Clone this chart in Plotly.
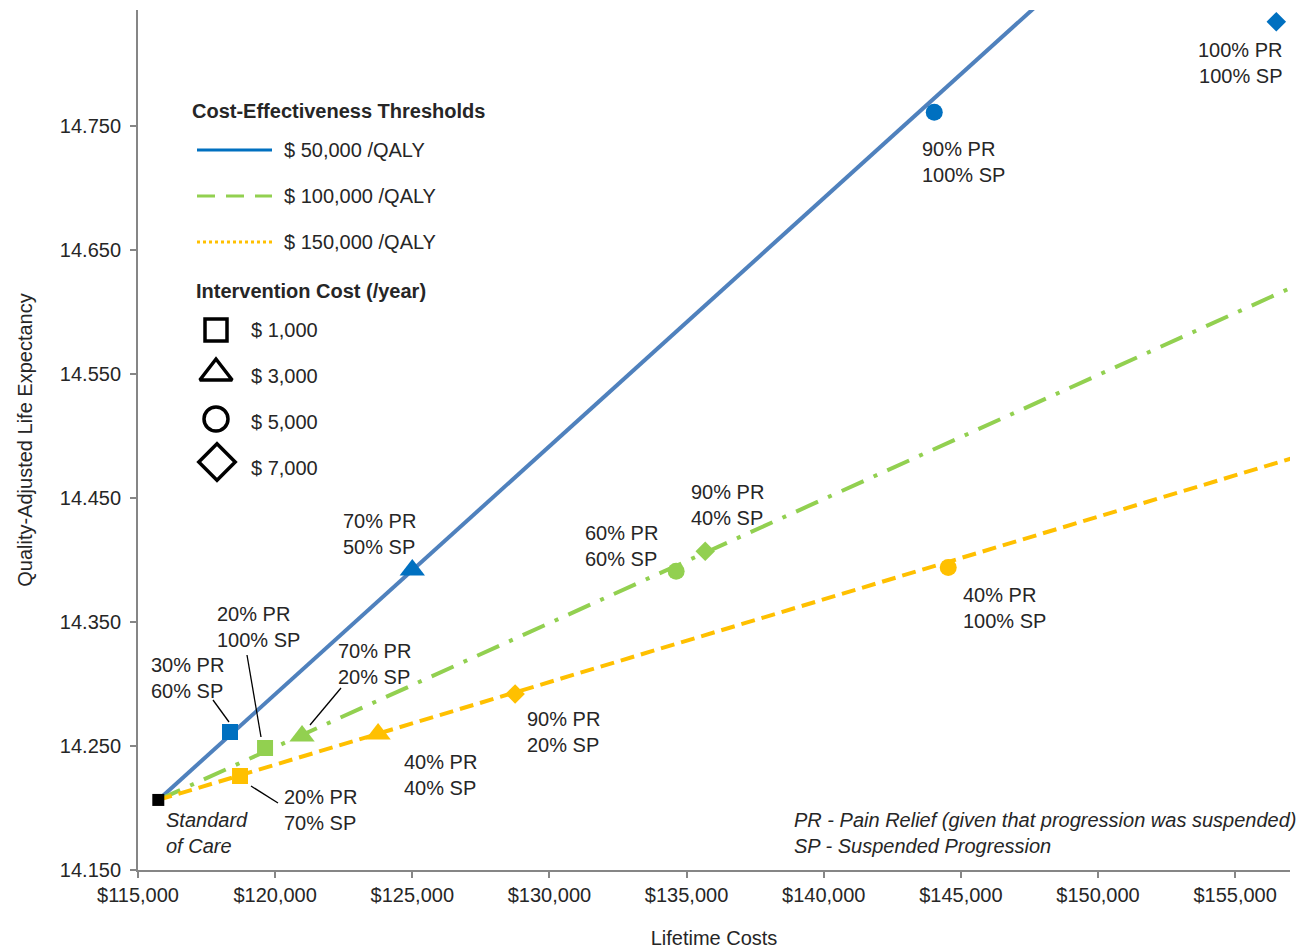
import plotly.graph_objects as go

# ---------------- data ----------------
soc_cost = 115740
soc_qale = 14.2065

thresholds = [50000, 100000, 150000]
threshold_names = ["$ 50,000 /QALY", "$ 100,000 /QALY", "$ 150,000 /QALY"]

blue_cost = [118355, 125000, 144030, 156500]
blue_qale = [14.2613, 14.392, 14.761, 14.834]
blue_sym = ["square", "triangle-up", "circle", "diamond"]

green_cost = [119632, 120981, 134620, 135680]
green_qale = [14.2484, 14.258, 14.391, 14.407]
green_sym = ["square", "triangle-up", "circle", "diamond"]

yellow_cost = [118720, 123753, 144540, 128750]
yellow_qale = [14.2258, 14.2597, 14.394, 14.292]
yellow_sym = ["square", "triangle-up", "circle", "diamond"]

x_ticks = [115000, 120000, 125000, 130000, 135000, 140000, 145000, 150000, 155000]
y_ticks = [14.15, 14.25, 14.35, 14.45, 14.55, 14.65, 14.75]
x_range = [115000, 157000]
y_range = [14.15, 14.8435]

BLUE = "#0070C0"
LINE_BLUE = "#4F81BD"
GREEN = "#92D050"
YELLOW = "#FFC000"
TXT = "#262626"
FONT = "Liberation Sans, Arial, sans-serif"

fig = go.Figure()

# threshold lines through standard of care
line_styles = [
    dict(color=LINE_BLUE, width=4, dash="solid"),
    dict(color=GREEN, width=4, dash="24px,11px,4px,11px"),
    dict(color=YELLOW, width=4, dash="14px,7px"),
]
x_end = 160000
for thr, st in zip(thresholds, line_styles):
    fig.add_trace(go.Scatter(
        x=[soc_cost, x_end],
        y=[soc_qale, soc_qale + (x_end - soc_cost) / thr],
        mode="lines", line=st, showlegend=False, hoverinfo="skip"))

sizes = {"square": 16, "triangle-up": 22, "circle": 17, "diamond": 15}
for cost, qale, sym, col in [(blue_cost, blue_qale, blue_sym, BLUE),
                             (green_cost, green_qale, green_sym, GREEN),
                             (yellow_cost, yellow_qale, yellow_sym, YELLOW)]:
    fig.add_trace(go.Scatter(
        x=cost, y=qale, mode="markers",
        marker=dict(symbol=sym, color=col, size=[sizes[s] for s in sym],
                    opacity=1, line=dict(width=0)),
        showlegend=False, cliponaxis=False))

fig.add_trace(go.Scatter(x=[soc_cost], y=[soc_qale], mode="markers",
                         marker=dict(symbol="square", color="black", size=12, opacity=1),
                         showlegend=False, cliponaxis=False))

# ------------- legend drawn in pixel space (x2/y2 axes) -------------
leg_sym_x = [216, 216, 216, 217]
leg_sym_y = [330, 373, 419, 462]
leg_syms = ["square-open", "triangle-up-open", "circle-open", "diamond-open"]
leg_sizes = [22, 28, 24, 28]
fig.add_trace(go.Scatter(
    x=leg_sym_x, y=leg_sym_y, xaxis="x2", yaxis="y2", mode="markers",
    marker=dict(symbol=leg_syms, size=leg_sizes, color="black", opacity=1,
                line=dict(width=3.5, color="black")),
    showlegend=False, hoverinfo="skip"))

leg_line_styles = [
    dict(color=BLUE, width=3, dash="solid"),
    dict(color=GREEN, width=3, dash="18px,11px"),
    dict(color=YELLOW, width=3, dash="3px,3px"),
]
for yy, st in zip([150, 196, 242], leg_line_styles):
    fig.add_trace(go.Scatter(x=[197, 272], y=[yy, yy], xaxis="x2", yaxis="y2",
                             mode="lines", line=st, showlegend=False,
                             hoverinfo="skip"))

ann = []
def txt(x, y, s, anchor="left", size=20, **kw):
    ann.append(dict(x=x, y=y, xref="x2", yref="y2", text=s, showarrow=False,
                    xanchor=anchor, yanchor="middle", align=anchor,
                    font=dict(family=FONT, size=size, color=TXT), **kw))

txt(190, 111, "<b>Cost-Effectiveness Thresholds</b>", size=20)
for yy, name in zip([150, 196, 242], threshold_names):
    txt(282, yy, name)
txt(194, 291, "<b>Intervention Cost (/year)</b>", size=20)
for yy, name in zip([330, 376, 422, 468], ["$ 1,000", "$ 3,000", "$ 5,000", "$ 7,000"]):
    txt(249, yy, name)

# point labels
txt(149, 678, "30% PR<br>60% SP")
txt(215, 627, "20% PR<br>100% SP")
txt(336, 664, "70% PR<br>20% SP")
txt(282, 810, "20% PR<br>70% SP")
txt(164, 833, "<i>Standard<br>of Care</i>")
txt(341, 534, "70% PR<br>50% SP")
txt(583, 546, "60% PR<br>60% SP")
txt(689, 505, "90% PR<br>40% SP")
txt(402, 775, "40% PR<br>40% SP")
txt(525, 732, "90% PR<br>20% SP")
txt(961, 608, "40% PR<br>100% SP")
txt(920, 162, "90% PR<br>100% SP")
txt(1285, 63, "100% PR<br>100% SP", anchor="right")
txt(792, 833, "<i>PR - Pain Relief (given that progression was suspended)<br>SP - Suspended Progression</i>")

shapes = []
for (x0, y0, x1, y1) in [(213, 700, 229, 722), (247, 655, 261, 737),
                         (341, 688, 310, 725), (251, 786, 278, 803)]:
    shapes.append(dict(type="line", xref="x2", yref="y2", x0=x0, y0=y0, x1=x1, y1=y1,
                       line=dict(color="black", width=1.3)))

fig.update_layout(
    width=1304, height=950,
    margin=dict(l=138, r=14, t=10, b=80),
    paper_bgcolor="white", plot_bgcolor="white",
    font=dict(family=FONT, color=TXT, size=20),
    annotations=ann, shapes=shapes,
    xaxis=dict(range=x_range, tickvals=x_ticks, tickformat="$,.0f",
               showgrid=False, zeroline=False, showline=True, linecolor="#868686",
               linewidth=2, ticks="outside", ticklen=6, tickcolor="#868686",
               tickwidth=1.5, automargin=False,
               tickfont=dict(size=20, color=TXT),
               title=dict(text="Lifetime Costs", font=dict(size=20, color=TXT),
                          standoff=26)),
    yaxis=dict(range=y_range, tickvals=y_ticks, tickformat=".3f",
               showgrid=False, zeroline=False, showline=True, linecolor="#868686",
               linewidth=2, ticks="outside", ticklen=6, tickcolor="#868686",
               tickwidth=1.5, ticklabelstandoff=5, automargin=False,
               tickfont=dict(size=20, color=TXT),
               title=dict(text="Quality-Adjusted Life Expectancy",
                          font=dict(size=20, color=TXT), standoff=22)),
    xaxis2=dict(range=[138, 1290], domain=[0, 1], anchor="y2", visible=False,
                overlaying="x"),
    yaxis2=dict(range=[870, 10], domain=[0, 1], anchor="x2", visible=False,
                overlaying="y"),
)

fig.write_html("out.html")
